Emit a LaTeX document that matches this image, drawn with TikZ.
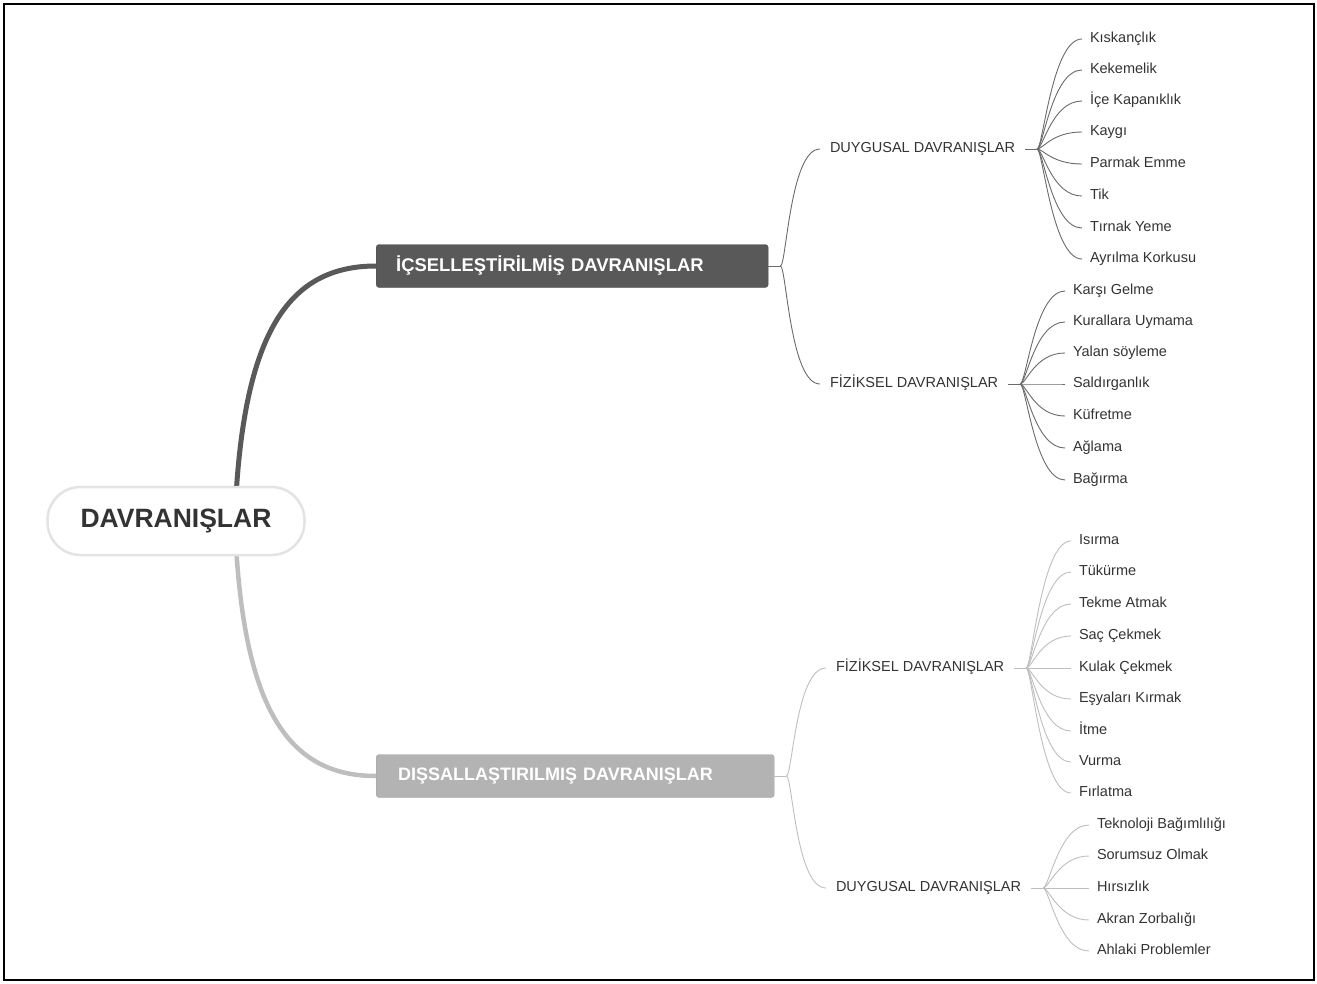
\documentclass[tikz,border=0pt]{standalone}
\usepackage{fontspec}
\setmainfont{Liberation Sans}
\usepackage{tikz}
\definecolor{koyu}{HTML}{595959}
\definecolor{acik}{HTML}{B3B3B3}
\definecolor{yazi}{HTML}{333333}
\definecolor{ustcizgi}{HTML}{6A6A6A}
\definecolor{altcizgi}{HTML}{BEBEBE}
\newcommand{\dal}[3]{\draw[#1] (#2) .. controls +(6,0) and +(-30,0) .. (#3.west);}
\tikzstyle{kok} = [draw=gray!22, line width=2.5pt, fill=white, rounded corners=33pt, minimum width=257pt, minimum height=68pt, text=yazi, font=\fontsize{26.5}{30}\selectfont\bfseries]
\tikzstyle{icbox} = [anchor=west, fill=koyu, draw=koyu!85!black, rounded corners=3pt, minimum height=43pt, text width=352pt, inner xsep=20pt, text=white, font=\fontsize{18.4}{21}\selectfont\bfseries]
\tikzstyle{disbox} = [anchor=west, fill=acik, draw=acik!90!black, rounded corners=3pt, minimum height=43pt, text width=354pt, inner xsep=22pt, text=white, font=\fontsize{18}{21}\selectfont\bfseries]
\tikzstyle{baslik} = [anchor=west, inner sep=2pt, outer sep=8pt, text height=10.5pt, text depth=3pt, text=yazi, font=\fontsize{14.5}{17}\selectfont]
\tikzstyle{yaprak} = [anchor=west, inner sep=2pt, outer sep=6pt, text height=10.5pt, text depth=3pt, text=yazi, font=\fontsize{14.5}{17}\selectfont]
\tikzstyle{ustkol} = [draw=ustcizgi, line width=0.9pt]
\tikzstyle{altkol} = [draw=altcizgi, line width=0.9pt]

\begin{document}
\begin{tikzpicture}[x=1pt,y=-1pt]
	\useasboundingbox (0,0) rectangle (1317,983);
	\draw[black, line width=2pt] (4,4) rectangle (1314,980);
	\node[icbox] (ic) at (376,266) {İÇSELLEŞTİRİLMİŞ DAVRANIŞLAR};
	\node[disbox] (dis) at (376,776) {DIŞSALLAŞTIRILMIŞ DAVRANIŞLAR};
	\draw[koyu, line width=5pt] (236,496) .. controls (246,330) and (290,266) .. (ic.west);
	\draw[altcizgi, line width=4.5pt] (236,546) .. controls (246,712) and (290,776) .. (dis.west);
	\node[kok] (root) at (176,521) {DAVRANIŞLAR};
	\node[baslik] (icduy) at (820,149) {DUYGUSAL DAVRANIŞLAR};
	\node[baslik] (icfiz) at (820,384) {FİZİKSEL DAVRANIŞLAR};
	\node[baslik] (disfiz) at (826,668) {FİZİKSEL DAVRANIŞLAR};
	\node[baslik] (disduy) at (826,888) {DUYGUSAL DAVRANIŞLAR};
	\draw[ustkol] (ic.east) -- ++(12,0) coordinate (icx);
	\dal{ustkol}{icx}{icduy}
	\dal{ustkol}{icx}{icfiz}
	\draw[altkol] (dis.east) -- ++(12,0) coordinate (disx);
	\dal{altkol}{disx}{disfiz}
	\dal{altkol}{disx}{disduy}
	\node[yaprak] (icd1) at (1082,39) {Kıskançlık};
	\node[yaprak] (icd2) at (1082,70) {Kekemelik};
	\node[yaprak] (icd3) at (1082,101) {İçe Kapanıklık};
	\node[yaprak] (icd4) at (1082,132) {Kaygı};
	\node[yaprak] (icd5) at (1082,164) {Parmak Emme};
	\node[yaprak] (icd6) at (1082,196) {Tik};
	\node[yaprak] (icd7) at (1082,228) {Tırnak Yeme};
	\node[yaprak] (icd8) at (1082,259) {Ayrılma Korkusu};
	\draw[ustkol] (icduy.east) -- ++(12,0) coordinate (icduyx);
	\dal{ustkol}{icduyx}{icd1}
	\dal{ustkol}{icduyx}{icd2}
	\dal{ustkol}{icduyx}{icd3}
	\dal{ustkol}{icduyx}{icd4}
	\dal{ustkol}{icduyx}{icd5}
	\dal{ustkol}{icduyx}{icd6}
	\dal{ustkol}{icduyx}{icd7}
	\dal{ustkol}{icduyx}{icd8}
	\node[yaprak] (icf1) at (1065,291) {Karşı Gelme};
	\node[yaprak] (icf2) at (1065,322) {Kurallara Uymama};
	\node[yaprak] (icf3) at (1065,353) {Yalan söyleme};
	\node[yaprak] (icf4) at (1065,384) {Saldırganlık};
	\node[yaprak] (icf5) at (1065,416) {Küfretme};
	\node[yaprak] (icf6) at (1065,448) {Ağlama};
	\node[yaprak] (icf7) at (1065,480) {Bağırma};
	\draw[ustkol] (icfiz.east) -- ++(12,0) coordinate (icfizx);
	\dal{ustkol}{icfizx}{icf1}
	\dal{ustkol}{icfizx}{icf2}
	\dal{ustkol}{icfizx}{icf3}
	\dal{ustkol}{icfizx}{icf4}
	\dal{ustkol}{icfizx}{icf5}
	\dal{ustkol}{icfizx}{icf6}
	\dal{ustkol}{icfizx}{icf7}
	\node[yaprak] (dsf1) at (1071,541) {Isırma};
	\node[yaprak] (dsf2) at (1071,572) {Tükürme};
	\node[yaprak] (dsf3) at (1071,604) {Tekme Atmak};
	\node[yaprak] (dsf4) at (1071,636) {Saç Çekmek};
	\node[yaprak] (dsf5) at (1071,668) {Kulak Çekmek};
	\node[yaprak] (dsf6) at (1071,699) {Eşyaları Kırmak};
	\node[yaprak] (dsf7) at (1071,731) {İtme};
	\node[yaprak] (dsf8) at (1071,762) {Vurma};
	\node[yaprak] (dsf9) at (1071,793) {Fırlatma};
	\draw[altkol] (disfiz.east) -- ++(12,0) coordinate (disfizx);
	\dal{altkol}{disfizx}{dsf1}
	\dal{altkol}{disfizx}{dsf2}
	\dal{altkol}{disfizx}{dsf3}
	\dal{altkol}{disfizx}{dsf4}
	\dal{altkol}{disfizx}{dsf5}
	\dal{altkol}{disfizx}{dsf6}
	\dal{altkol}{disfizx}{dsf7}
	\dal{altkol}{disfizx}{dsf8}
	\dal{altkol}{disfizx}{dsf9}
	\node[yaprak] (dsd1) at (1089,825) {Teknoloji Bağımlılığı};
	\node[yaprak] (dsd2) at (1089,856) {Sorumsuz Olmak};
	\node[yaprak] (dsd3) at (1089,888) {Hırsızlık};
	\node[yaprak] (dsd4) at (1089,920) {Akran Zorbalığı};
	\node[yaprak] (dsd5) at (1089,951) {Ahlaki Problemler};
	\draw[altkol] (disduy.east) -- ++(12,0) coordinate (disduyx);
	\dal{altkol}{disduyx}{dsd1}
	\dal{altkol}{disduyx}{dsd2}
	\dal{altkol}{disduyx}{dsd3}
	\dal{altkol}{disduyx}{dsd4}
	\dal{altkol}{disduyx}{dsd5}
\end{tikzpicture}
\end{document}
